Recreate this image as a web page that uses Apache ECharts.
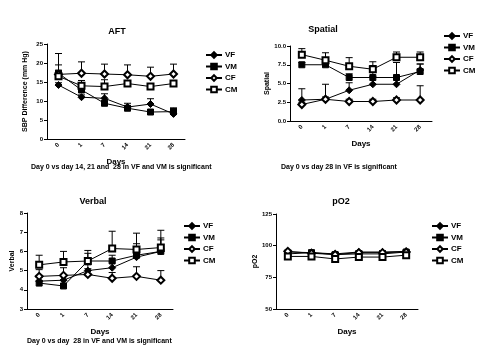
<!DOCTYPE html>
<html><head><meta charset="utf-8">
<script src="https://cdn.jsdelivr.net/npm/echarts@6/dist/echarts.min.js"></script>
<style>html,body{margin:0;padding:0;background:#fff}#c{width:481px;height:360px}</style>
</head><body><div id="c"></div>
<script>
const days = ['0','1','7','14','21','28'];
const groups = ['VF','VM','CF','CM'];

// AFT
const aftVF = [14.2, 11.0, 10.7, 8.4, 9.2, 6.6];
const aftVM = [17.3, 12.9, 9.4, 8.1, 7.1, 7.2];
const aftCF = [17.0, 17.3, 17.1, 16.9, 16.5, 17.1];
const aftCM = [16.5, 14.0, 13.8, 14.6, 13.8, 14.6];
const aftVFe = [0.6, 0.6, 1.2, 1.0, 1.4, 1.6];
const aftVMe = [0.8, 0.7, 0.6, 0.6, 0.5, 0.8];
const aftCFe = [2.5, 3.0, 2.6, 2.6, 2.4, 2.6];
const aftCMe = [6.0, 1.4, 1.8, 0.8, 0.8, 0.6];

// Spatial
const spVF = [2.8, 2.9, 4.1, 4.9, 4.9, 6.8];
const spVM = [7.5, 7.5, 5.8, 5.8, 5.8, 6.6];
const spCF = [2.2, 2.9, 2.6, 2.6, 2.8, 2.8];
const spCM = [8.85, 8.1, 7.3, 6.9, 8.5, 8.5];
const spVFe = [1.5, 2.0, 1.0, 1.0, 1.0, 0.8];
const spVMe = [0.3, 0.3, 0.5, 2.1, 2.0, 1.0];
const spCFe = [0.3, 0.3, 0.3, 0.3, 0.3, 1.9];
const spCMe = [0.8, 1.0, 1.15, 0.5, 0.7, 0.7];

// Verbal
const vbVF = [4.45, 4.5, 5.0, 5.15, 5.7, 6.0];
const vbVM = [4.35, 4.2, 5.5, 5.5, 5.8, 6.0];
const vbCF = [4.7, 4.75, 4.8, 4.6, 4.7, 4.5];
const vbCM = [5.3, 5.45, 5.5, 6.15, 6.1, 6.2];
const vbVFe = [0.3, 0.3, 0.3, 0.3, 0.4, 0.6];
const vbVMe = [0.3, 0.3, 0.55, 0.3, 1.15, 0.7];
const vbCFe = [0.35, 0.4, 0.3, 0.3, 0.5, 0.5];
const vbCMe = [0.5, 0.55, 0.4, 0.9, 0.3, 0.9];

// pO2
const poVF = [95.0, 94.5, 93.5, 95.0, 95.0, 95.5];
const poVM = [93.5, 94.5, 93.0, 93.5, 93.5, 95.0];
const poCF = [95.5, 94.0, 93.0, 94.5, 94.5, 95.0];
const poCM = [91.5, 91.5, 89.5, 91.0, 91.0, 92.5];
const poVFe = [1.0, 1.0, 1.0, 1.0, 1.0, 1.0];
const poVMe = [1.0, 1.2, 1.5, 1.5, 1.2, 1.0];
const poCFe = [1.0, 1.0, 1.5, 1.0, 1.0, 1.0];
const poCMe = [1.0, 1.0, 2.0, 1.0, 1.0, 1.0];

const FONT = 'Liberation Sans';
const symbols = {VF:'diamond', VM:'rect', CF:'emptyDiamond', CM:'emptyRect'};
const symSize = {VF:7, VM:6, CF:7, CM:6};

const panels = [
  {title:'AFT', tx:112, ty:22, grid:{left:47, top:44, width:138, height:95}, y:{min:0,max:25,interval:5}, yname:'SBP Difference (mm Hg)', ygap:18,
   data:{VF:[aftVF,aftVFe], VM:[aftVM,aftVMe], CF:[aftCF,aftCFe], CM:[aftCM,aftCMe]}, leg:{left:200, top:46},
   note:'Day 0 vs day 14, 21 and  28 in VF and VM is significant', nx:31, ny:164},
  {title:'Spatial', tx:318, ty:20, grid:{left:290, top:46, width:142, height:75}, y:{min:0,max:10,interval:2.5}, yname:'Spatial', ygap:18,
   data:{VF:[spVF,spVFe], VM:[spVM,spVMe], CF:[spCF,spCFe], CM:[spCM,spCMe]}, leg:{left:438, top:27},
   note:'Day 0 vs day 28 in VF is significant', nx:281, ny:164},
  {title:'Verbal', tx:88, ty:192, grid:{left:27, top:213, width:146, height:96}, y:{min:3,max:8,interval:1}, yname:'Verbal', ygap:11,
   data:{VF:[vbVF,vbVFe], VM:[vbVM,vbVMe], CF:[vbCF,vbCFe], CM:[vbCM,vbCMe]}, leg:{left:178, top:217},
   note:'Day 0 vs day  28 in VF and VM is significant', nx:27, ny:338},
  {title:'pO2', tx:336, ty:192, grid:{left:276, top:214, width:142, height:95}, y:{min:50,max:125,interval:25}, yname:'pO2', ygap:16,
   data:{VF:[poVF,poVFe], VM:[poVM,poVMe], CF:[poCF,poCFe], CM:[poCM,poCMe]}, leg:{left:426, top:217},
   note:null}
];

const option = {
  animation:false, backgroundColor:'#fff',
  textStyle:{fontFamily:FONT, color:'#000'},
  title:[], grid:[], xAxis:[], yAxis:[], legend:[], series:[], graphic:[]
};

function errRender(params, api){
  const x = api.value(0), y = api.value(1), e = api.value(2);
  const p0 = api.coord([x, y]);
  const p1 = api.coord([x, y + e]);
  return {type:'group', children:[
    {type:'line', shape:{x1:p0[0], y1:p0[1], x2:p1[0], y2:p1[1]}, style:{stroke:'#000', lineWidth:1}},
    {type:'line', shape:{x1:p1[0]-3.5, y1:p1[1], x2:p1[0]+3.5, y2:p1[1]}, style:{stroke:'#000', lineWidth:1}}
  ]};
}

panels.forEach((p, i) => {
  option.title.push({text:p.title, left:p.tx, top:p.ty, textAlign:'center',
    textStyle:{fontSize:9, fontWeight:'bold', fontFamily:FONT, color:'#000'}});
  option.grid.push(Object.assign({containLabel:false}, p.grid));
  option.xAxis.push({type:'category', gridIndex:i, data:days, boundaryGap:true,
    name:'Days', nameLocation:'middle', nameGap:19,
    nameTextStyle:{fontSize:8, fontWeight:'bold', fontFamily:FONT, color:'#000'},
    axisLine:{lineStyle:{color:'#000', width:1}},
    axisTick:{alignWithLabel:true, length:3, lineStyle:{color:'#000'}},
    axisLabel:{rotate:45, fontSize:6, fontWeight:'bold', color:'#000', margin:5, fontFamily:FONT},
    splitLine:{show:false}});
  option.yAxis.push(Object.assign({type:'value', gridIndex:i,
    name:p.yname, nameLocation:'middle', nameGap:p.ygap, nameRotate:90,
    nameTextStyle:{fontSize:7, fontWeight:'bold', fontFamily:FONT, color:'#000'},
    axisLine:{show:true, lineStyle:{color:'#000', width:1}},
    axisTick:{show:true, length:3, lineStyle:{color:'#000'}},
    axisLabel:{fontSize:6, fontWeight:'bold', color:'#000', margin:4, fontFamily:FONT,
      formatter: v => (p.y.interval === 2.5 ? v.toFixed(1) : String(v))},
    splitLine:{show:false}}, p.y));
  option.legend.push({orient:'vertical', left:p.leg.left, top:p.leg.top, itemWidth:16, itemHeight:7, itemGap:3.5,
    data:groups, selectedMode:false,
    textStyle:{fontSize:8, fontWeight:'bold', fontFamily:FONT, color:'#000', padding:[0,0,0,-2]}});
  groups.forEach(g => {
    const [vals, errs] = p.data[g];
    option.series.push({type:'custom', name:g+'_err', xAxisIndex:i, yAxisIndex:i, z:2,
      renderItem:errRender, encode:{x:0, y:1},
      data: vals.map((v, k) => [k, v, errs[k]]), silent:true});
    option.series.push({type:'line', name:g, xAxisIndex:i, yAxisIndex:i, z:3,
      data: vals, symbol:symbols[g], symbolSize:symSize[g], showAllSymbol:true,
      lineStyle:{color:'#000', width:1}, itemStyle:{color:'#000', borderColor:'#000', borderWidth:1}});
  });
  if (p.note) option.graphic.push({type:'text', left:p.nx, top:p.ny,
    style:{text:p.note, fontSize:7, fontWeight:'bold', fontFamily:FONT, fill:'#000'}});
});

const chart = echarts.init(document.getElementById('c'), null, {renderer:'canvas'});
chart.setOption(option);
</script></body></html>
